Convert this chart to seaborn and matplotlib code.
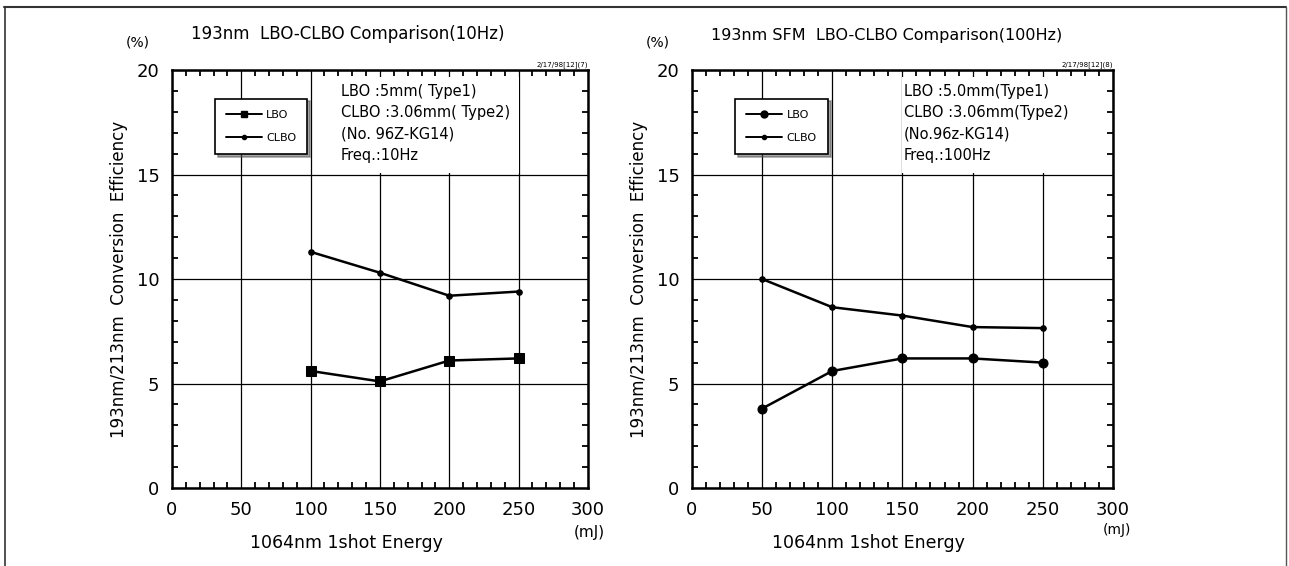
import pandas as pd
import seaborn as sns
import matplotlib.pyplot as plt
from matplotlib.patches import Rectangle
from matplotlib.lines import Line2D
from matplotlib.ticker import MultipleLocator

# left panel (10Hz)
energy_10 = [100, 150, 200, 250]
lbo_10 = [5.6, 5.1, 6.1, 6.2]
clbo_10 = [11.3, 10.3, 9.2, 9.4]

# right panel (100Hz)
energy_100 = [50, 100, 150, 200, 250]
lbo_100 = [3.8, 5.6, 6.2, 6.2, 6.0]
clbo_100 = [10.0, 8.65, 8.25, 7.7, 7.65]

titles = ["193nm  LBO-CLBO Comparison(10Hz)", "193nm SFM  LBO-CLBO Comparison(100Hz)"]
notes = ["LBO :5mm( Type1)\nCLBO :3.06mm( Type2)\n(No. 96Z-KG14)\nFreq.:10Hz",
         "LBO :5.0mm(Type1)\nCLBO :3.06mm(Type2)\n(No.96z-KG14)\nFreq.:100Hz"]
stamps = ["2/17/98[12](7)", "2/17/98[12](8)"]
x_ticks = [0, 50, 100, 150, 200, 250, 300]
y_ticks = [0, 5, 10, 15, 20]


def draw_panel(ax, energy, lbo, clbo, title, note, stamp, lbo_marker, note_x, mask_x,
               title_size, mj_pos, mj_size):
    df = pd.DataFrame({"energy": energy, "LBO": lbo, "CLBO": clbo})
    sns.lineplot(data=df, x="energy", y="LBO", ax=ax, color="black", lw=1.8,
                 marker=lbo_marker, markersize=6.5, markeredgecolor="black", zorder=5)
    sns.lineplot(data=df, x="energy", y="CLBO", ax=ax, color="black", lw=1.8,
                 marker="o", markersize=4, markeredgecolor="black", zorder=5)

    ax.set_xlim(0, 300)
    ax.set_ylim(0, 20)
    ax.set_xticks(x_ticks)
    ax.set_yticks(y_ticks)
    ax.xaxis.set_minor_locator(MultipleLocator(10))
    ax.yaxis.set_minor_locator(MultipleLocator(1))
    ax.tick_params(which="both", direction="in", top=True, right=True, bottom=True, left=True,
                   colors="black", labelsize=13)
    ax.tick_params(which="major", length=0, pad=9)
    ax.tick_params(which="minor", length=4, width=1.3)
    ax.grid(True, which="major", color="black", lw=0.9)
    ax.set_axisbelow(True)
    for s in ax.spines.values():
        s.set_linewidth(1.8)
        s.set_color("black")
    ax.set_xlabel("")
    ax.set_ylabel("193nm/213nm  Conversion  Efficiency", fontsize=12, labelpad=6, color="black")

    # white area behind the notes
    ax.add_patch(Rectangle((mask_x[0], 15.07), mask_x[1] - mask_x[0], 4.6,
                           facecolor="white", edgecolor="none", zorder=1.5))
    ax.text(note_x, 19.35, note, fontsize=10.5, va="top", ha="left", linespacing=1.55, zorder=6)

    handles = [Line2D([], [], color="black", lw=1.4, marker=lbo_marker, markersize=5),
               Line2D([], [], color="black", lw=1.4, marker="o", markersize=3)]
    leg = ax.legend(handles, ["LBO", "CLBO"], loc="upper left", bbox_to_anchor=(0.09, 0.945),
                    fontsize=8, frameon=True, fancybox=False, shadow=True, handlelength=3.2,
                    borderpad=1.0, labelspacing=1.2, handletextpad=0.4)
    leg.get_frame().set_edgecolor("black")
    leg.get_frame().set_linewidth(1.2)

    ax.text(0.045, 1.065, title, transform=ax.transAxes, fontsize=title_size, ha="left", va="bottom")
    ax.text(-0.11, 1.05, "(%)", transform=ax.transAxes, fontsize=10, ha="left", va="bottom")
    ax.text(1.0, 1.005, stamp, transform=ax.transAxes, fontsize=5, ha="right", va="bottom")
    ax.text(mj_pos[0], mj_pos[1], "(mJ)", transform=ax.transAxes, fontsize=mj_size,
            ha="left", va="center")
    ax.text(0.42, -0.132, "1064nm 1shot Energy", transform=ax.transAxes, fontsize=12.5,
            ha="center", va="center")


sns.set_style("white")
plt.rcParams["font.family"] = ["DejaVu Sans"]
plt.rcParams["text.color"] = "black"

fig = plt.figure(figsize=(12.89, 5.66), dpi=100)
ax1 = fig.add_axes([0.1334, 0.1378, 0.3227, 0.7385])
ax2 = fig.add_axes([0.5368, 0.1378, 0.3266, 0.7385])

draw_panel(ax1, energy_10, lbo_10, clbo_10, titles[0], notes[0], stamps[0], "s", 122,
           (119, 250.6), 12, (0.965, -0.107), 11)
draw_panel(ax2, energy_100, lbo_100, clbo_100, titles[1], notes[1], stamps[1], "o", 151,
           (150, 274), 11.5, (0.975, -0.1), 10)

# page frame
fig.add_artist(Line2D([0.003, 0.998], [0.988, 0.988], color="#333333", lw=1.5))
fig.add_artist(Line2D([0.0035, 0.0035], [0.0, 0.988], color="#333333", lw=1.2))
fig.add_artist(Line2D([0.998, 0.998], [0.0, 0.988], color="#555555", lw=1.0))

fig.savefig("out.png", dpi=100)
